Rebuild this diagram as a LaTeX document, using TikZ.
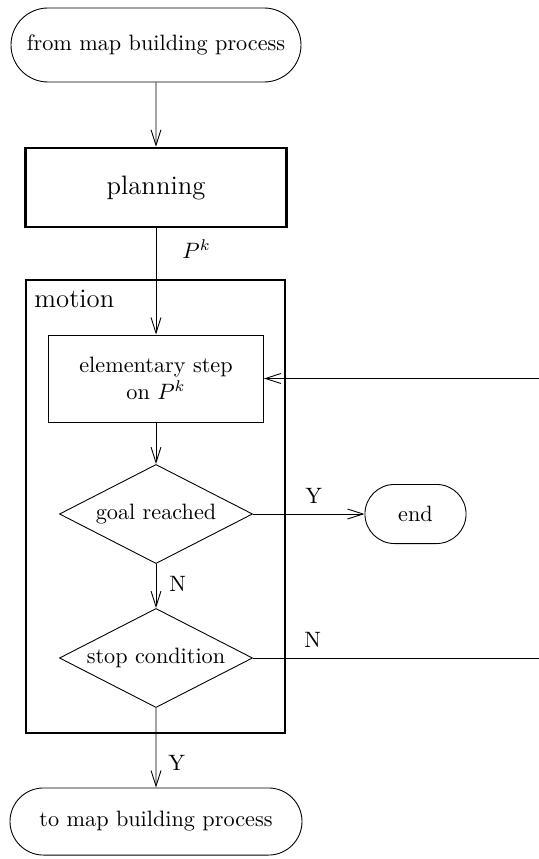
\documentclass[tikz,border=0pt]{standalone}
\usepackage{amsmath,amssymb}
\usetikzlibrary{shapes.geometric,shapes.misc,arrows.meta}

\begin{document}
\begin{tikzpicture}[x=0.45pt,y=-0.45pt,
        terminal/.style={draw,rounded rectangle,inner sep=0pt},
        process/.style={draw,rectangle,inner sep=0pt,align=center},
        decision/.style={draw,diamond,aspect=2,inner sep=0pt,minimum width=86.9pt,minimum height=44.6pt},
        flow/.style={-{Straight Barb[length=7pt,width=4.5pt]}},
        lbl/.style={anchor=base west,inner sep=0pt}]
                \useasboundingbox (0,0) rectangle (539,859);
                \node[process,line width=0.9pt,minimum width=116.6pt,minimum height=203.9pt] (motion) at (155.5,506.5) {};
                \node[lbl,font=\large] (motionlbl) at (34,307) {motion};
                \node[terminal,minimum width=130.5pt,minimum height=33.3pt] (from) at (156,45) {from map building process};
                \node[process,line width=1.2pt,font=\large,minimum width=117.5pt,minimum height=35.5pt] (plan) at (156,187.5) {planning};
                \node[process,minimum width=96.75pt,minimum height=39.2pt] (stepbox) at (156,378.5) {elementary step\\ on $P^k$};
                \node[decision] (goal) at (156,514) {goal reached};
                \node[decision] (stop) at (156,658) {stop condition};
                \node[terminal,minimum width=45.5pt,minimum height=26.6pt] (finish) at (415.5,514) {end};
                \node[terminal,minimum width=131.4pt,minimum height=30.2pt] (tomap) at (156,821.5) {to map building process};
                \coordinate (loopin) at (539,378.5);
                \coordinate (loopout) at (539,658);
                \draw[flow] (from) -- (plan);
                \draw[flow] (plan) -- (stepbox);
                \draw[flow] (stepbox) -- (goal);
                \draw[flow] (goal) -- (stop);
                \draw[flow] (goal) -- (finish);
                \draw[flow] (stop) -- (tomap);
                \draw[flow] (loopin) -- (stepbox);
                \draw (stop) -- (loopout);
                \node[lbl] (pk) at (182,259) {$P^k$};
                \node[lbl] (goalyes) at (305,503) {Y};
                \node[lbl] (goalno) at (169,591) {N};
                \node[lbl] (stopno) at (304,647) {N};
                \node[lbl] (stopyes) at (168,770) {Y};
            \end{tikzpicture}
\end{document}
